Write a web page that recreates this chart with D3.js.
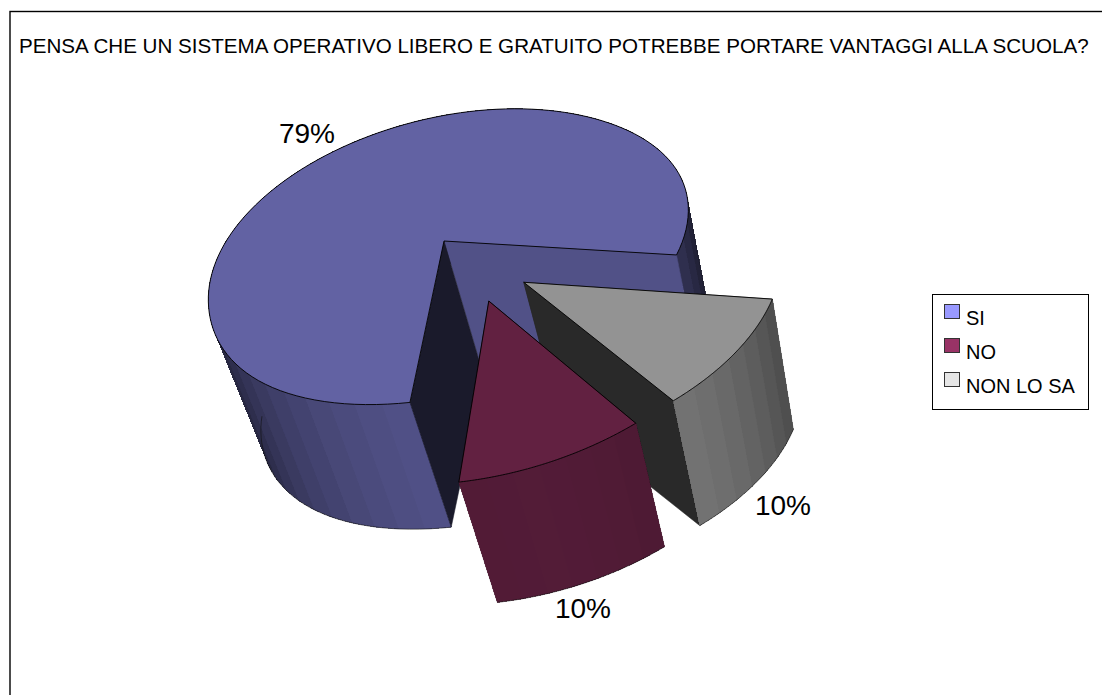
<!DOCTYPE html>
<html>
<head>
<meta charset="utf-8">
<script src="https://cdn.jsdelivr.net/npm/d3@7"></script>
<style>
  html, body { margin: 0; padding: 0; background: white; }
  svg { display: block; font-family: "Liberation Sans", Arial, sans-serif; }
</style>
</head>
<body>
<div class="svg-wrap"></div>
<script>
const title = "PENSA CHE UN SISTEMA OPERATIVO LIBERO E GRATUITO POTREBBE PORTARE VANTAGGI ALLA SCUOLA?";
const categories = ["SI", "NO", "NON LO SA"];
const values = [79, 10, 10];
const valueLabels = ["79%", "10%", "10%"];
const colors = ["#9999ff", "#993366", "#e6e6e6"];

const width = 1102;
const height = 695;

let svg = d3.select(".svg-wrap")
  .append("svg")
  .attr("width", width)
  .attr("height", height);

// frame of the chart, right and bottom sides fall outside the image
svg.append("rect")
  .attr("x", 10).attr("y", 11.5)
  .attr("width", 1200).attr("height", 800)
  .attr("fill", "white").attr("stroke", "black").attr("stroke-width", 1.4);

svg.append("text")
  .attr("x", 19).attr("y", 53)
  .style("font-size", "20.6px")
  .text(title);

// the picture is a perspective view of the pie: plane coordinates are measured
// from the apex of the big slice, d1/d2 and w1/w2 come from the two cut edges
const apex = [444, 241];
const d1 = [221.6, 13.3], w1 = -0.047;
const d2 = [-30, 142.2], w2 = -0.119;
const explode = 0.255;
const vanish = [1147, 2630], depth = 0.056;

const pie = d3.pie().sort(null).startAngle(0).endAngle(-2 * Math.PI);
const arcs = pie(values);

function mod360(a) {
  return (a % (2 * Math.PI) + 2 * Math.PI) % (2 * Math.PI);
}

// angle where the blue slice stops, this is the direction of d2
const gap = mod360(arcs[0].endAngle);
const sinGap = Math.sin(gap), cosGap = Math.cos(gap);

function project(x, y) {
  let b = y / sinGap;
  let a = x - b * cosGap;
  let den = 1 + a * w1 + b * w2;
  return [
    apex[0] + (a * d1[0] + b * d2[0]) / den,
    apex[1] + (a * d1[1] + b * d2[1]) / den
  ];
}

function drop(p) {
  return [p[0] + (vanish[0] - p[0]) * depth, p[1] + (vanish[1] - p[1]) * depth];
}

function shade(color, k) {
  let c = d3.rgb(color);
  return d3.rgb(c.r * k, c.g * k, c.b * k).formatHex();
}

// brightness of the curved wall, light comes from lower right
function wallLight(a) {
  return 0.11 + 0.43 * Math.max(0, Math.cos(a - Math.PI / 3));
}

// the big slice is not quite round in the picture, small radius correction along its sweep
const rimBend = d3.interpolateBasis([0, -0.012, -0.055, -0.012, 0.035, 0.028, -0.008, 0, 0]);

const line = d3.line();
const blueMid = (arcs[0].startAngle + arcs[0].endAngle) / 2;
const center = [-explode * Math.cos(blueMid), -explode * Math.sin(blueMid)];

function sliceGeom(d, i) {
  let mid = (d.startAngle + d.endAngle) / 2;
  let ox = center[0] + explode * Math.cos(mid);
  let oy = center[1] + explode * Math.sin(mid);
  return {
    apex: project(ox, oy),
    rim: a => {
      let r = 1;
      if (i == 0) r += rimBend((a - d.endAngle) / (d.startAngle - d.endAngle));
      return project(ox + r * Math.cos(a), oy + r * Math.sin(a));
    }
  };
}

const sideLight = [
  { low: 0.17, high: 0.53 },  // blue: wall at the end of the sweep, wall at the start
  { low: 0.2, high: 0.2 },
  { low: 0.18, high: 0.18 }
];

function addWall(g, geo, a, color) {
  let p = geo.rim(a);
  g.append("path")
    .attr("d", line([geo.apex, p, drop(p), drop(geo.apex)]) + "Z")
    .attr("fill", color)
    .attr("stroke", color)
    .attr("stroke-width", 0.5);
}

function drawSlice(d, i) {
  let g = svg.append("g").attr("class", "slice");
  let geo = sliceGeom(d, i);
  let color = colors[i];
  let a0 = d.endAngle, a1 = d.startAngle; // a0 < a1

  // exploded slices show their straight walls from behind the curved one
  if (i != 0) {
    addWall(g, geo, a0, shade(color, sideLight[i].low));
    addWall(g, geo, a1, shade(color, sideLight[i].high));
  }

  // curved wall in strips, back ones first
  let step = 6 * Math.PI / 180;
  let n = Math.ceil((a1 - a0) / step);
  let cuts = d3.range(n + 1).map(k => a0 + (a1 - a0) * k / n);
  let strips = d3.pairs(cuts).map(pair => ({
    p: geo.rim(pair[0]),
    q: geo.rim(pair[1]),
    fill: shade(color, wallLight(mod360((pair[0] + pair[1]) / 2)))
  }));
  strips.sort((s, t) => (s.p[1] + s.q[1]) - (t.p[1] + t.q[1]));
  strips.forEach(s => {
    g.append("path")
      .attr("d", line([s.p, s.q, drop(s.q), drop(s.p)]) + "Z")
      .attr("fill", s.fill)
      .attr("stroke", s.fill)
      .attr("stroke-width", 0.7)
      .attr("shape-rendering", "crispEdges");
  });

  let rimPoints = d3.range(0, 121).map(k => geo.rim(a0 + (a1 - a0) * k / 120));

  // thin dark edge along the bottom, only the front part of the big slice
  let front = i == 0 ? rimPoints.slice(0, 36) : rimPoints;
  g.append("path")
    .attr("d", line(front.map(drop)))
    .attr("fill", "none")
    .attr("stroke", "#111")
    .attr("stroke-width", 0.6);

  if (i == 0) {
    addWall(g, geo, a1, shade(color, sideLight[i].high));
    addWall(g, geo, a0, shade(color, sideLight[i].low));
  }

  // top face
  g.append("path")
    .attr("d", line([geo.apex].concat(rimPoints)) + "Z")
    .attr("fill", shade(color, 0.64))
    .attr("stroke", "black")
    .attr("stroke-width", 0.9);
}

// painter's order: big slice, grey one, then the red one in front
[0, 2, 1].forEach(i => drawSlice(arcs[i], i));

// value labels
const labelPos = [[307, 143], [583, 618], [783, 515]];
svg.selectAll(".pct")
  .data(valueLabels)
  .enter()
  .append("text")
  .attr("class", "pct")
  .attr("x", (d, i) => labelPos[i][0])
  .attr("y", (d, i) => labelPos[i][1])
  .attr("text-anchor", "middle")
  .style("font-size", "28px")
  .text(d => d);

// legend
let legend = svg.append("g").attr("class", "legend");
legend.append("rect")
  .attr("x", 932.5).attr("y", 294.5)
  .attr("width", 156).attr("height", 115)
  .attr("fill", "white").attr("stroke", "black");

let itemY = d3.scalePoint().domain(categories).range([304, 372]);

legend.selectAll(".swatch")
  .data(categories)
  .enter()
  .append("rect")
  .attr("class", "swatch")
  .attr("x", 944.5)
  .attr("y", d => itemY(d) + 0.5)
  .attr("width", 15)
  .attr("height", 14)
  .attr("fill", (d, i) => colors[i])
  .attr("stroke", "#333");

legend.selectAll(".item")
  .data(categories)
  .enter()
  .append("text")
  .attr("class", "item")
  .attr("x", 966)
  .attr("y", d => itemY(d) + 21)
  .style("font-size", "20px")
  .text(d => d);
</script>
</body>
</html>
